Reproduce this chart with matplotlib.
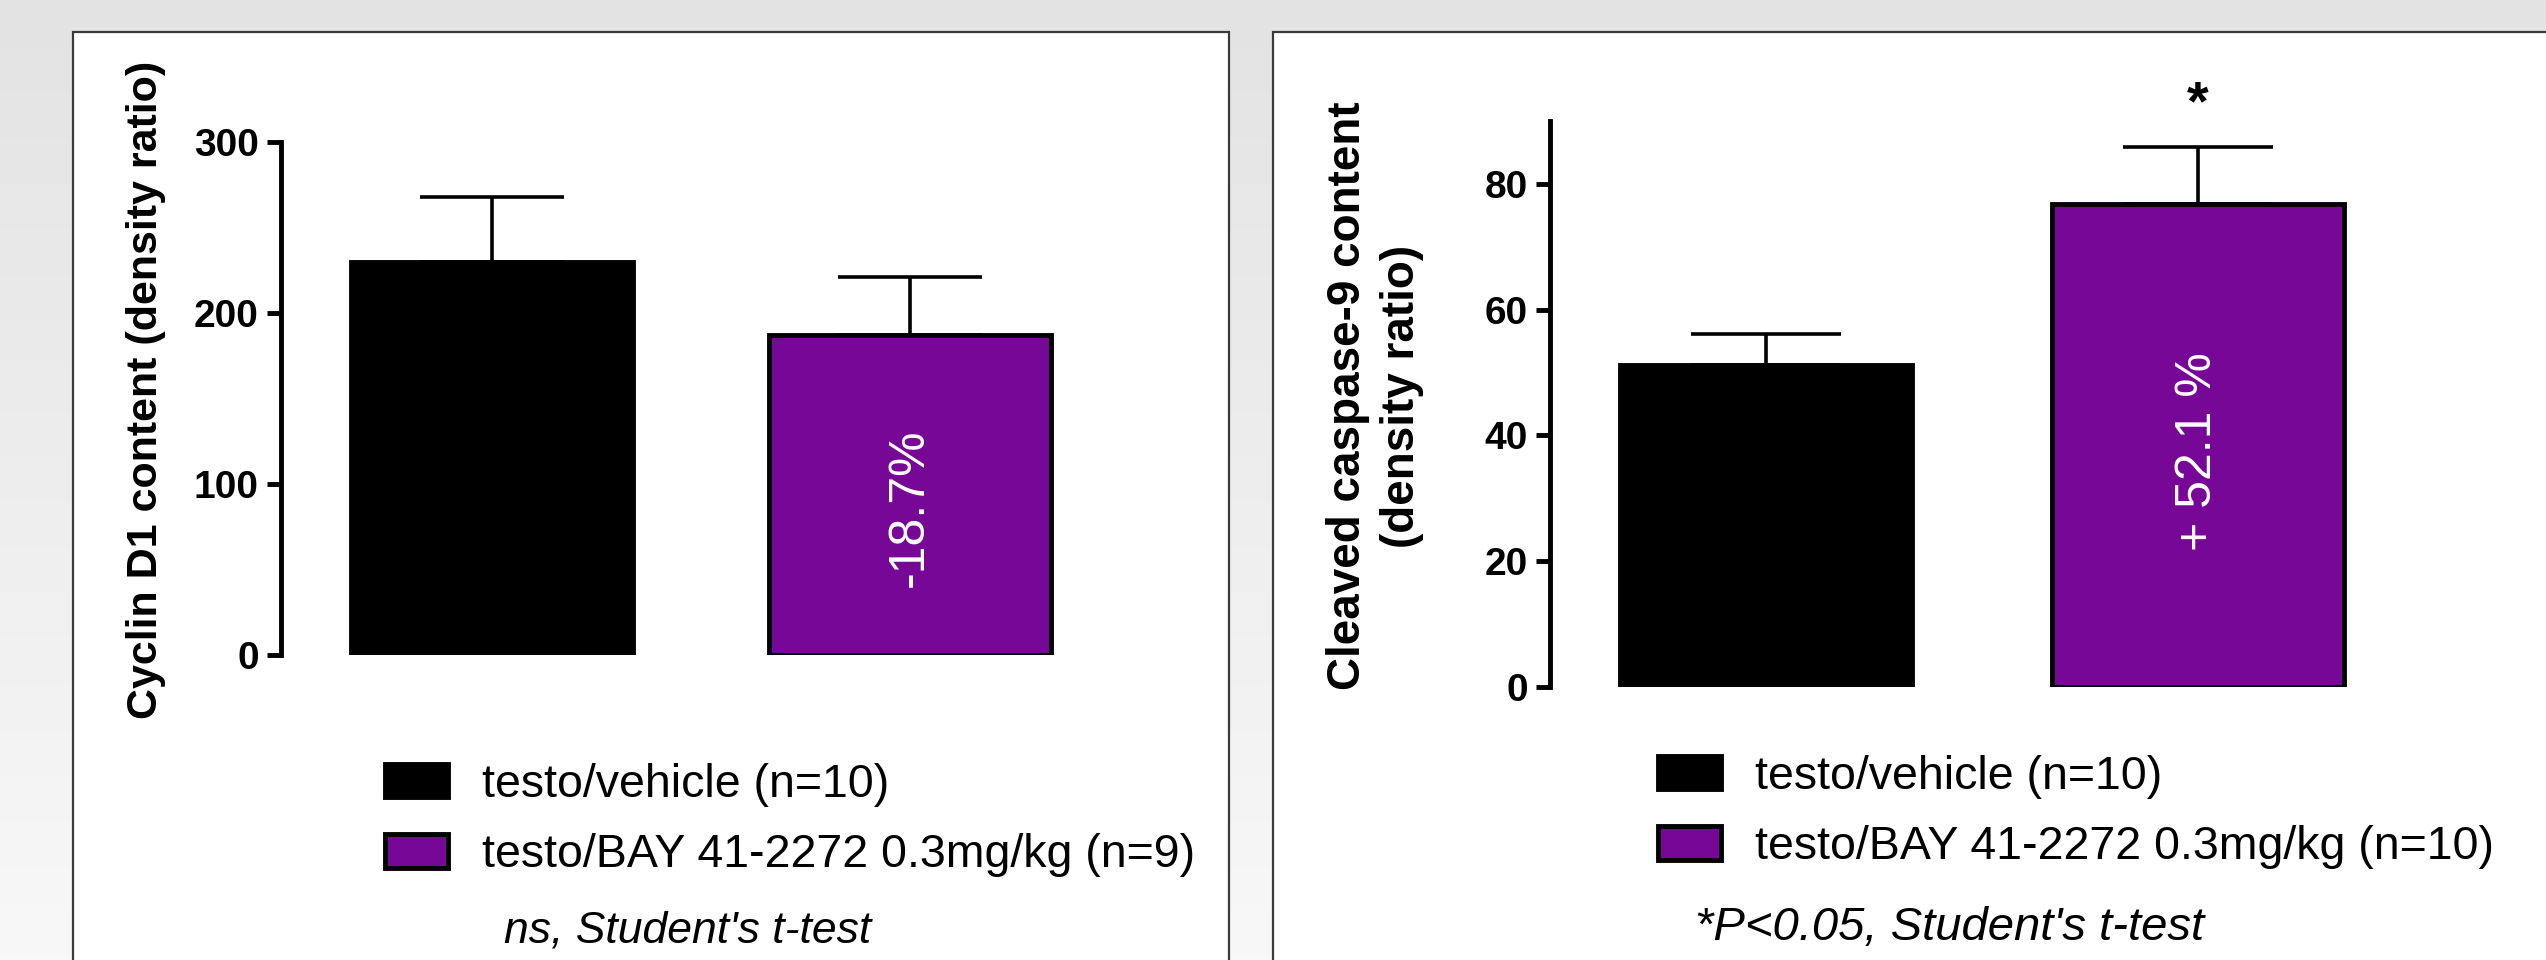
import numpy as np
import matplotlib.pyplot as plt
from matplotlib.patches import Rectangle
from matplotlib.colors import LinearSegmentedColormap

# data
groups_cyclin = ['testo/vehicle (n=10)', 'testo/BAY 41-2272 0.3mg/kg (n=9)']
cyclin_mean = [230, 187]
cyclin_sem = [38, 34]
cyclin_change = '-18.7%'

groups_casp = ['testo/vehicle (n=10)', 'testo/BAY 41-2272 0.3mg/kg (n=10)']
casp_mean = [51.2, 76.8]
casp_sem = [5.0, 9.0]
casp_change = '+ 52.1 %'

bar_colors = ['#000000', '#770796']

W, H = 2546, 960
plt.rcParams['font.family'] = ['Liberation Sans', 'DejaVu Sans']

fig = plt.figure(figsize=(W / 100, H / 100), dpi=100)


def px(x, y, w, h):
    # pixel box (from top left) -> figure fraction
    return [x / W, 1 - (y + h) / H, w / W, h / H]


# grey gradient behind the two panels
bg = fig.add_axes([0, 0, 1, 1], zorder=-10)
grad = np.linspace(0, 1, 256).reshape(-1, 1)
cmap = LinearSegmentedColormap.from_list('bg', ['#e3e3e3', '#f8f8f8'])
bg.imshow(grad, aspect='auto', cmap=cmap, extent=[0, 1, 0, 1])
bg.axis('off')

# white panels with thin dark frame
for x0, x1 in [(73, 1229), (1273, 2600)]:
    fig.patches.append(Rectangle((x0 / W, -0.05), (x1 - x0) / W, 1.05 - 32 / H,
                                 transform=fig.transFigure, fc='white',
                                 ec='#3a3a3a', lw=1.6, zorder=-5))


def draw_panel(ax, groups, means, sems, ymax, yticks, change, change_y, capsize):
    x = np.arange(len(means))
    for i in range(len(means)):
        ax.bar(x[i], means[i], width=0.675, color=bar_colors[i], edgecolor='black',
               linewidth=3.5, label=groups[i], zorder=2)
    ax.errorbar(x, means, yerr=[np.zeros(len(sems)), sems], fmt='none', ecolor='black',
                elinewidth=2.6, capsize=capsize, capthick=2.6, zorder=1)
    ax.text(x[1], change_y, change, rotation=90, color='white', fontsize=36,
            ha='center', va='center', zorder=3)
    ax.set_xlim(-0.5, 1.5)
    ax.set_ylim(0, ymax)
    ax.set_yticks(yticks)
    ax.set_xticks([])
    for s in ['top', 'right', 'bottom']:
        ax.spines[s].set_visible(False)
    ax.spines['left'].set_linewidth(3.5)
    ax.tick_params(axis='y', width=3.5, length=10, labelsize=28, pad=6)
    for lab in ax.get_yticklabels():
        lab.set_fontweight('bold')
    ax.patch.set_alpha(0)


ax1 = fig.add_axes(px(281, 142, 838, 513))
draw_panel(ax1, groups_cyclin, cyclin_mean, cyclin_sem, 300, [0, 100, 200, 300],
           cyclin_change, 86, 52)
ax1.set_xlim(-0.505, 1.5)

ax2 = fig.add_axes(px(1550, 121, 864, 566))
draw_panel(ax2, groups_casp, casp_mean, casp_sem, 90, [0, 20, 40, 60, 80],
           casp_change, 37.4, 54)
ax2.text(1, casp_mean[1] + casp_sem[1] + 4.5, '*', fontsize=40, fontweight='bold',
         ha='center', va='baseline')

# y labels
fig.text(146 / W, 1 - 390 / H, 'Cyclin D1 content (density ratio)', rotation=90,
         fontsize=31, fontweight='bold', ha='center', va='center')
fig.text(1375 / W, 1 - 396 / H, 'Cleaved caspase-9 content\n(density ratio)', rotation=90,
         fontsize=33, fontweight='bold', ha='center', va='center',
         multialignment='center', linespacing=1.3)

# legends
for ax, lx, ly in [(ax1, 385, 763), (ax2, 1658, 755)]:
    ax.legend(loc='upper left', bbox_to_anchor=(lx / W, 1 - ly / H),
              bbox_transform=fig.transFigure, frameon=False, fontsize=33.5,
              handlelength=1.36, handleheight=0.73, handletextpad=0.72,
              labelspacing=0.56, borderpad=0, borderaxespad=0)

# statistics notes
fig.text(688 / W, 1 - 931 / H, "ns, Student's t-test", style='italic', fontsize=32,
         ha='center', va='center')
fig.text(1950 / W, 1 - 928 / H, "*P<0.05, Student's t-test", style='italic', fontsize=34,
         ha='center', va='center')

fig.savefig('out.png', dpi=100)
